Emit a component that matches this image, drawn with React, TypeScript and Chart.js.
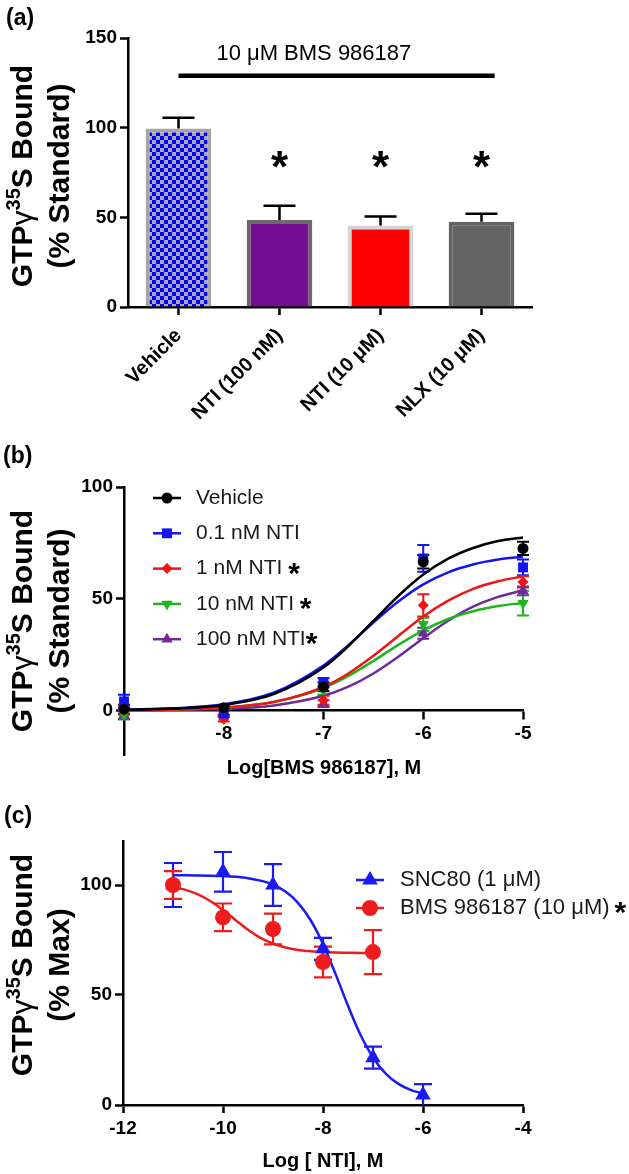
import React, { useEffect, useRef } from "react";
import { Chart, registerables } from "chart.js";
import { drawPoint } from "chart.js/helpers";

Chart.register(...registerables);

const FONT = "'Liberation Sans', Arial, Helvetica, sans-serif";

/* ---------------- Panel (a) data ---------------- */
const barCategories = ["Vehicle", "NTI (100 nM)", "NTI (10 μM)", "NLX (10 μM)"];
const barMeans = [99.5, 48.5, 45.5, 47.5];
const barSems = [6, 8, 5, 4.5];
const barStars = [false, true, true, true];
const barStarLevel = 82;
const barYTicks = [0, 50, 100, 150];
const bracketLevel = 129;
const bracketFrom = 0;
const bracketTo = 3.13;
const bracketText = "10 μM BMS 986187";
const bracketTextLevel = 141;
const bracketTextAt = 1.34;
const barFillColors = ["checker", "#740f93", "#ff0000", "#636363"];
const barBorderColors = ["#a6a6a6", "#6a6a6a", "#d4d4d4", "#636363"];

/* ---------------- Panel (b) data ---------------- */
const bDoseX = [-9, -8, -7, -6, -5];
const vehicleMean = [0.5, 1.2, 10.5, 66.5, 72.5];
const vehicleSem = [2, 1, 2, 3, 3];
const nti01Mean = [4, -1.5, 12.5, 68, 64];
const nti01Sem = [3, 1.5, 2, 6, 3.5];
const nti1Mean = [0, -4, 4.5, 47, 57.5];
const nti1Sem = [2, 1, 2, 5, 2.5];
const nti10Mean = [-2, -1, 9, 38.5, 48];
const nti10Sem = [2, 1, 2, 3, 5.5];
const nti100Mean = [-2, -1, 3, 34.5, 53.5];
const nti100Sem = [2, 1, 1.5, 2.5, 2];

const bCurveX = [-9, -8.5, -8, -7.5, -7, -6.75, -6.5, -6.25, -6, -5.75, -5.5, -5.25, -5];
const vehicleCurve = [0.25, 0.8, 2.4, 7.3, 19.2, 28.8, 40, 51.2, 60.8, 67.9, 72.7, 75.8, 77.4];
const nti01Curve = [0.3, 0.9, 2.7, 7.9, 20.1, 29.2, 39.3, 48.7, 56.4, 61.8, 65.3, 67.5, 68.8];
const nti1Curve = [0.13, 0.4, 1.2, 3.7, 10.5, 16.5, 24.4, 33.3, 42.0, 49.1, 54.4, 57.8, 60.0];
const nti10Curve = [0.13, 0.4, 1.2, 3.7, 10.0, 15.4, 22.1, 29.3, 35.8, 40.9, 44.4, 46.7, 48.1];
const nti100Curve = [0.07, 0.23, 0.7, 2.2, 6.5, 10.6, 16.5, 24.0, 32.3, 40.1, 46.4, 50.8, 53.7];
const bXTicks = [-8, -7, -6, -5];
const bYTicks = [0, 50, 100];

/* ---------------- Panel (c) data ---------------- */
const sncX = [-11, -10, -9, -8, -7, -6];
const sncMean = [100, 106, 100, 71, 21.5, 4.5];
const sncSem = [10, 9, 9.5, 5, 5, 5];
const bmsX = [-11, -10, -9, -8, -7];
const bmsMean = [100, 85.3, 80, 65, 69.5];
const bmsSem = [6.3, 6.3, 7, 7, 10];
const sncCurveX = [-11, -10.75, -10.5, -10.25, -10, -9.75, -9.5, -9.25, -9, -8.75, -8.5, -8.25, -8, -7.75, -7.5, -7.25, -7, -6.75, -6.5, -6.25, -6];
const sncCurve = [104.45, 104.42, 104.36, 104.25, 104.05, 103.7, 103.1, 102.0, 100.2, 97.0, 91.9, 84.1, 73.2, 59.6, 45.1, 31.9, 21.6, 14.4, 9.7, 6.9, 5.2];
const bmsCurveX = [-11, -10.75, -10.5, -10.25, -10, -9.75, -9.5, -9.25, -9, -8.75, -8.5, -8.25, -8, -7.75, -7.5, -7.25, -7];
const bmsCurve = [99.1, 97.8, 95.7, 92.6, 88.6, 84.1, 79.7, 76.0, 73.4, 71.6, 70.5, 69.9, 69.5, 69.3, 69.2, 69.1, 69.05];
const cXTicks = [-12, -10, -8, -6, -4];
const cYTicks = [0, 50, 100];

/* ---------------- helpers ---------------- */
const tickFont = { family: FONT, size: 19, weight: "bold" as const };

function axis(extra: any = {}) {
  return {
    grid: {
      display: true,
      drawOnChartArea: false,
      drawTicks: true,
      tickLength: 8,
      tickWidth: 2.5,
      tickColor: "#000",
      offset: false,
    },
    border: { display: true, color: "#000", width: 2.5 },
    ...extra,
    ticks: { color: "#000", font: tickFont, padding: 3, ...(extra.ticks || {}) },
  };
}

function fixedTicks(values: number[]) {
  return (s: any) => {
    s.ticks = values.map((v) => ({ value: v }));
  };
}

function pts(xs: number[], ys: number[]) {
  return xs.map((x, i) => ({ x, y: ys[i] }));
}

function errorBarsPlugin(series: any[]) {
  return {
    id: "errorBars",
    beforeDatasetsDraw(chart: any) {
      const { ctx, scales } = chart;
      ctx.save();
      series.forEach((s) => {
        ctx.strokeStyle = s.color;
        ctx.lineWidth = s.lineWidth;
        s.xs.forEach((xv: number, i: number) => {
          const px = scales.x.getPixelForValue(xv);
          const hi = scales.y.getPixelForValue(s.ys[i] + s.errs[i]);
          const lo = scales.y.getPixelForValue(Math.max(s.ys[i] - s.errs[i], scales.y.min));
          ctx.beginPath();
          ctx.moveTo(px, lo);
          ctx.lineTo(px, hi);
          ctx.moveTo(px - s.cap, hi);
          ctx.lineTo(px + s.cap, hi);
          if (s.ys[i] - s.errs[i] > scales.y.min) {
            ctx.moveTo(px - s.cap, lo);
            ctx.lineTo(px + s.cap, lo);
          }
          ctx.stroke();
        });
      });
      ctx.restore();
    },
  };
}

function lineLegendPlugin(items: any[], lay: any) {
  return {
    id: "lineLegend",
    afterDraw(chart: any) {
      const { ctx } = chart;
      ctx.save();
      items.forEach((it, i) => {
        const y = lay.y0 + i * lay.dy;
        ctx.strokeStyle = it.color;
        ctx.lineWidth = lay.lineWidth;
        ctx.beginPath();
        ctx.moveTo(lay.x0, y);
        ctx.lineTo(lay.x1, y);
        ctx.stroke();
        ctx.fillStyle = it.color;
        drawPoint(
          ctx,
          { pointStyle: it.pointStyle, radius: it.radius, rotation: it.rotation || 0, borderWidth: 0 } as any,
          (lay.x0 + lay.x1) / 2,
          y
        );
        ctx.fillStyle = "#1a1a1a";
        ctx.font = `${lay.fontSize}px ${FONT}`;
        ctx.textAlign = "left";
        ctx.textBaseline = "middle";
        ctx.fillText(it.label, lay.textX, y);
        if (it.star) {
          const w = ctx.measureText(it.label).width;
          ctx.fillStyle = "#000";
          ctx.font = `bold ${lay.starSize}px ${FONT}`;
          ctx.textBaseline = "alphabetic";
          const m = ctx.measureText("*");
          const off = (m.actualBoundingBoxAscent - m.actualBoundingBoxDescent) / 2;
          ctx.fillText("*", lay.textX + w + lay.starGap, y + off);
        }
      });
      ctx.restore();
    },
  };
}

/* ---------------- Panel (a) ---------------- */
function buildA(canvas: HTMLCanvasElement) {
  const ctx = canvas.getContext("2d")!;
  const pc = document.createElement("canvas");
  pc.width = 8;
  pc.height = 8;
  const p = pc.getContext("2d")!;
  p.fillStyle = "#a9a9b6";
  p.fillRect(0, 0, 8, 8);
  p.fillStyle = "#0000ff";
  p.fillRect(0, 0, 4, 4);
  p.fillRect(4, 4, 4, 4);
  const pattern = ctx.createPattern(pc, "repeat");
  const fills = barFillColors.map((c) => (c === "checker" ? pattern : c));

  const extras = {
    id: "barExtras",
    afterDatasetsDraw(chart: any) {
      const { ctx: c, scales } = chart;
      const x = scales.x;
      const y = scales.y;
      c.save();
      c.strokeStyle = "#000";
      c.lineWidth = 2.5;
      barMeans.forEach((m, i) => {
        const cx = x.getPixelForValue(i);
        const y0 = y.getPixelForValue(m);
        const y1 = y.getPixelForValue(m + barSems[i]);
        c.beginPath();
        c.moveTo(cx, y0);
        c.lineTo(cx, y1);
        c.moveTo(cx - 16, y1);
        c.lineTo(cx + 16, y1);
        c.stroke();
      });
      c.fillStyle = "#000";
      c.font = `bold 44px ${FONT}`;
      c.textAlign = "center";
      c.textBaseline = "alphabetic";
      const mt = c.measureText("*");
      const off = (mt.actualBoundingBoxAscent - mt.actualBoundingBoxDescent) / 2;
      barStars.forEach((s, i) => {
        if (s) c.fillText("*", x.getPixelForValue(i), y.getPixelForValue(barStarLevel) + off);
      });
      c.lineWidth = 4.5;
      c.beginPath();
      const by = y.getPixelForValue(bracketLevel);
      c.moveTo(x.getPixelForValue(bracketFrom), by);
      c.lineTo(x.getPixelForValue(bracketTo), by);
      c.stroke();
      c.font = `22px ${FONT}`;
      c.textBaseline = "middle";
      c.fillText(bracketText, x.getPixelForValue(bracketTextAt), y.getPixelForValue(bracketTextLevel));
      c.restore();
    },
  };

  return new Chart(canvas, {
    type: "bar",
    data: {
      labels: barCategories,
      datasets: [
        {
          data: barMeans,
          backgroundColor: fills as any,
          borderColor: barBorderColors,
          borderWidth: 4,
          barPercentage: 0.65,
          categoryPercentage: 1,
        },
      ],
    },
    options: {
      responsive: false,
      animation: false,
      layout: { padding: { left: 0, top: 38, right: 97, bottom: 0 } },
      plugins: { legend: { display: false }, tooltip: { enabled: false } },
      scales: {
        x: axis({
          ticks: {
            minRotation: 45,
            maxRotation: 45,
            autoSkip: false,
            padding: 9,
            font: { family: FONT, size: 20, weight: "bold" },
          },
          afterFit: (s: any) => {
            s.height = 163;
          },
        }),
        y: axis({
          min: 0,
          max: 150,
          afterBuildTicks: fixedTicks(barYTicks),
          afterFit: (s: any) => {
            s.width = 128;
          },
        }),
      } as any,
    },
    plugins: [extras],
  });
}

/* ---------------- Panel (b) ---------------- */
const bSeries = [
  { label: "Vehicle", star: false, color: "#000000", mean: vehicleMean, sem: vehicleSem, curve: vehicleCurve, pointStyle: "circle", radius: 5.5, rotation: 0 },
  { label: "0.1 nM NTI", star: false, color: "#1414f0", mean: nti01Mean, sem: nti01Sem, curve: nti01Curve, pointStyle: "rect", radius: 7, rotation: 0 },
  { label: "1 nM NTI ", star: true, color: "#f01414", mean: nti1Mean, sem: nti1Sem, curve: nti1Curve, pointStyle: "rectRot", radius: 5.5, rotation: 0 },
  { label: "10 nM NTI ", star: true, color: "#1fb51f", mean: nti10Mean, sem: nti10Sem, curve: nti10Curve, pointStyle: "triangle", radius: 6.5, rotation: 180 },
  { label: "100 nM NTI", star: true, color: "#6f2a9c", mean: nti100Mean, sem: nti100Sem, curve: nti100Curve, pointStyle: "triangle", radius: 6.5, rotation: 0 },
];

function buildB(canvas: HTMLCanvasElement) {
  const pointSets = bSeries.map((s) => ({
    type: "scatter",
    data: pts(bDoseX, s.mean),
    pointStyle: s.pointStyle,
    pointRadius: s.radius,
    pointRotation: s.rotation,
    backgroundColor: s.color,
    borderColor: s.color,
    pointBorderWidth: 0,
    showLine: false,
    clip: false,
  }));
  const curves = bSeries.map((s) => ({
    type: "scatter",
    data: pts(bCurveX, s.curve),
    showLine: true,
    pointRadius: 0,
    borderColor: s.color,
    borderWidth: 2.5,
    cubicInterpolationMode: "monotone",
    clip: false,
  }));
  const errs = errorBarsPlugin(
    bSeries.map((s) => ({ xs: bDoseX, ys: s.mean, errs: s.sem, color: s.color, lineWidth: 2, cap: 6 }))
  );
  const legend = lineLegendPlugin(bSeries, {
    x0: 153,
    x1: 181,
    y0: 28,
    dy: 35.3,
    lineWidth: 2.5,
    textX: 196,
    fontSize: 21,
    starSize: 30,
    starGap: 0,
  });
  return new Chart(canvas, {
    type: "scatter",
    data: { datasets: [...pointSets, ...curves] as any },
    options: {
      responsive: false,
      animation: false,
      layout: { padding: { left: 0, top: 17, right: 106, bottom: 45 } },
      plugins: { legend: { display: false }, tooltip: { enabled: false } },
      scales: {
        x: axis({
          type: "linear",
          min: -9,
          max: -5,
          position: { y: 0 },
          afterBuildTicks: fixedTicks(bXTicks),
          ticks: { padding: 4 },
        }),
        y: axis({
          type: "linear",
          min: -20,
          max: 100,
          afterBuildTicks: fixedTicks(bYTicks),
          afterFit: (s: any) => {
            s.width = 124;
          },
        }),
      } as any,
    },
    plugins: [errs, legend],
  });
}

/* ---------------- Panel (c) ---------------- */
const cSeries = [
  { label: "SNC80 (1 μM)", star: false, color: "#1a1af2", xs: sncX, mean: sncMean, sem: sncSem, cx: sncCurveX, curve: sncCurve, pointStyle: "triangle", radius: 9, rotation: 0 },
  { label: "BMS 986187 (10 μM)", star: true, color: "#ee1c1c", xs: bmsX, mean: bmsMean, sem: bmsSem, cx: bmsCurveX, curve: bmsCurve, pointStyle: "circle", radius: 8, rotation: 0 },
];

function buildC(canvas: HTMLCanvasElement) {
  const pointSets = cSeries
    .map((s) => ({
      type: "scatter",
      data: pts(s.xs, s.mean),
      pointStyle: s.pointStyle,
      pointRadius: s.radius,
      backgroundColor: s.color,
      borderColor: s.color,
      pointBorderWidth: 0,
      showLine: false,
      clip: false,
    }))
    .reverse();
  const curves = cSeries.map((s) => ({
    type: "scatter",
    data: pts(s.cx, s.curve),
    showLine: true,
    pointRadius: 0,
    borderColor: s.color,
    borderWidth: 2.5,
    cubicInterpolationMode: "monotone",
    clip: false,
  }));
  const errs = errorBarsPlugin(
    cSeries.map((s) => ({ xs: s.xs, ys: s.mean, errs: s.sem, color: s.color, lineWidth: 2.2, cap: 9 }))
  );
  const legend = lineLegendPlugin(cSeries, {
    x0: 356,
    x1: 384,
    y0: 80,
    dy: 28,
    lineWidth: 2.5,
    textX: 400,
    fontSize: 22,
    starSize: 30,
    starGap: 5,
  });
  return new Chart(canvas, {
    type: "scatter",
    data: { datasets: [...pointSets, ...curves] as any },
    options: {
      responsive: false,
      animation: false,
      layout: { padding: { left: 0, top: 41, right: 106, bottom: 0 } },
      plugins: { legend: { display: false }, tooltip: { enabled: false } },
      scales: {
        x: axis({
          type: "linear",
          min: -12,
          max: -4,
          afterBuildTicks: fixedTicks(cXTicks),
          ticks: { padding: 4 },
          afterFit: (s: any) => {
            s.height = 69;
          },
        }),
        y: axis({
          type: "linear",
          min: 0,
          max: 120,
          afterBuildTicks: fixedTicks(cYTicks),
          afterFit: (s: any) => {
            s.width = 123;
          },
        }),
      } as any,
    },
    plugins: [errs, legend],
  });
}

/* ---------------- HTML text ---------------- */
function YTitle({ cy, second }: { cy: number; second: string }) {
  const w = 340;
  const h = 68;
  const cx = 39;
  return (
    <div
      style={{
        position: "absolute",
        left: cx - w / 2,
        top: cy - h / 2,
        width: w,
        height: h,
        transform: "rotate(-90deg)",
        textAlign: "center",
        fontFamily: FONT,
        fontWeight: "bold",
        fontSize: 30,
        lineHeight: "34px",
        color: "#000",
        whiteSpace: "nowrap",
      }}
    >
      <div>
        GTP<span style={{ fontWeight: "normal" }}>γ</span>
        <span style={{ fontSize: 20, position: "relative", top: -12 }}>35</span>S Bound
      </div>
      <div>{second}</div>
    </div>
  );
}

function XTitle({ cx, cy, text }: { cx: number; cy: number; text: string }) {
  return (
    <div
      style={{
        position: "absolute",
        left: cx - 200,
        top: cy - 12,
        width: 400,
        textAlign: "center",
        fontFamily: FONT,
        fontWeight: "bold",
        fontSize: 20,
        lineHeight: "24px",
        color: "#000",
        whiteSpace: "nowrap",
      }}
    >
      {text}
    </div>
  );
}

function PanelLabel({ x, cy, text }: { x: number; cy: number; text: string }) {
  return (
    <div
      style={{
        position: "absolute",
        left: x,
        top: cy - 13,
        fontFamily: FONT,
        fontWeight: "bold",
        fontSize: 23,
        lineHeight: "26px",
        color: "#000",
      }}
    >
      {text}
    </div>
  );
}

export default function App() {
  const aRef = useRef<HTMLCanvasElement>(null);
  const bRef = useRef<HTMLCanvasElement>(null);
  const cRef = useRef<HTMLCanvasElement>(null);

  useEffect(() => {
    Chart.defaults.font.family = FONT;
    Chart.defaults.color = "#000";
    const charts = [buildA(aRef.current!), buildB(bRef.current!), buildC(cRef.current!)];
    return () => charts.forEach((c) => c.destroy());
  }, []);

  return (
    <div style={{ position: "absolute", left: 0, top: 0, width: 629, height: 1174, background: "#fff", overflow: "hidden" }}>
      <canvas ref={aRef} width={629} height={470} style={{ position: "absolute", left: 0, top: 0 }} />
      <canvas ref={bRef} width={629} height={330} style={{ position: "absolute", left: 0, top: 470 }} />
      <canvas ref={cRef} width={629} height={374} style={{ position: "absolute", left: 0, top: 800 }} />
      <PanelLabel x={6} cy={16.5} text="(a)" />
      <PanelLabel x={3} cy={455} text="(b)" />
      <PanelLabel x={4} cy={815} text="(c)" />
      <YTitle cy={176} second="(% Standard)" />
      <YTitle cy={621} second="(% Standard)" />
      <YTitle cy={965} second="(% Max)" />
      <XTitle cx={324} cy={767} text="Log[BMS 986187], M" />
      <XTitle cx={323} cy={1160} text="Log [ NTI], M" />
    </div>
  );
}
